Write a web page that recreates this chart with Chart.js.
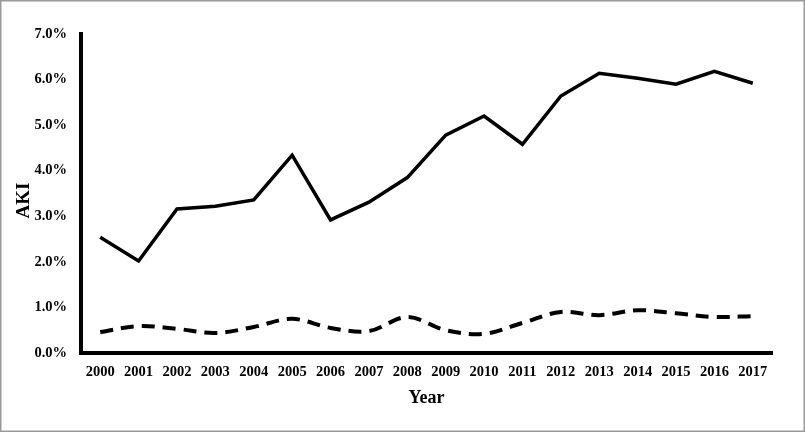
<!DOCTYPE html>
<html>
<head>
<meta charset="utf-8">
<script src="https://cdn.jsdelivr.net/npm/chart.js@4"></script>
<style>
html,body{margin:0;padding:0;background:#fff;}
#wrap{width:805px;height:432px;position:relative;}
</style>
</head>
<body>
<div id="wrap"><canvas id="c" width="805" height="432"></canvas></div>
<script>
const years = ['2000','2001','2002','2003','2004','2005','2006','2007','2008','2009','2010','2011','2012','2013','2014','2015','2016','2017'];
const solidSeries = [2.54,2.02,3.16,3.22,3.36,4.34,2.92,3.31,3.85,4.78,5.20,4.58,5.64,6.14,6.03,5.90,6.18,5.92];
const dashedSeries = [0.46,0.59,0.53,0.44,0.57,0.75,0.55,0.48,0.79,0.50,0.42,0.66,0.90,0.83,0.94,0.87,0.79,0.81];
const yTicks = [0,1,2,3,4,5,6,7];

const borderPlugin = {
  id: 'frame',
  afterDraw(chart) {
    const ctx = chart.ctx;
    ctx.save();
    ctx.strokeStyle = '#9a9a9a';
    ctx.lineWidth = 1.5;
    ctx.strokeRect(0.75, 0.75, chart.width - 1.5, chart.height - 1.5);
    ctx.restore();
  }
};
const whiteBg = {
  id: 'bg',
  beforeDraw(chart) {
    const ctx = chart.ctx;
    ctx.save();
    ctx.fillStyle = '#fff';
    ctx.fillRect(0, 0, chart.width, chart.height);
    ctx.restore();
  }
};

const fontFam = '"Liberation Serif", "Times New Roman", serif';

new Chart(document.getElementById('c'), {
  type: 'line',
  data: {
    labels: years,
    datasets: [
      {
        data: solidSeries,
        borderColor: '#000',
        borderWidth: 3.5,
        pointRadius: 0,
        tension: 0,
        fill: false
      },
      {
        data: dashedSeries,
        borderColor: '#000',
        borderWidth: 4,
        borderDash: [13, 8],
        pointRadius: 0,
        tension: 0.35,
        fill: false
      }
    ]
  },
  options: {
    responsive: false,
    animation: false,
    devicePixelRatio: 1,
    layout: { padding: { left: 6, top: 34, right: 33, bottom: 0 } },
    plugins: {
      legend: { display: false },
      tooltip: { enabled: false }
    },
    scales: {
      x: {
        type: 'category',
        offset: true,
        grid: { display: false, drawTicks: false },
        border: { display: true, color: '#000', width: 4 },
        ticks: {
          color: '#000',
          padding: 11,
          maxRotation: 0,
          autoSkip: false,
          font: { family: fontFam, size: 14.5, weight: 'bold' }
        },
        title: {
          display: true,
          text: 'Year',
          color: '#000',
          font: { family: fontFam, size: 18, weight: 'bold' },
          padding: { top: 0, bottom: 23 }
        },
        afterFit(s) { s.height = 79; }
      },
      y: {
        min: 0,
        max: 7,
        afterBuildTicks(s) { s.ticks = yTicks.map(v => ({ value: v })); },
        grid: { display: false, drawTicks: false },
        border: { display: true, color: '#000', width: 4 },
        ticks: {
          color: '#000',
          padding: 14,
          font: { family: fontFam, size: 14.5, weight: 'bold' },
          callback: v => Number(v).toFixed(1) + '%'
        },
        title: {
          display: true,
          text: 'AKI   ',
          color: '#000',
          font: { family: fontFam, size: 19, weight: 'bold' },
          padding: { top: 7, bottom: 0 }
        },
        afterFit(s) { s.width = 75; }
      }
    }
  },
  plugins: [whiteBg, borderPlugin]
});
</script>
</body>
</html>
